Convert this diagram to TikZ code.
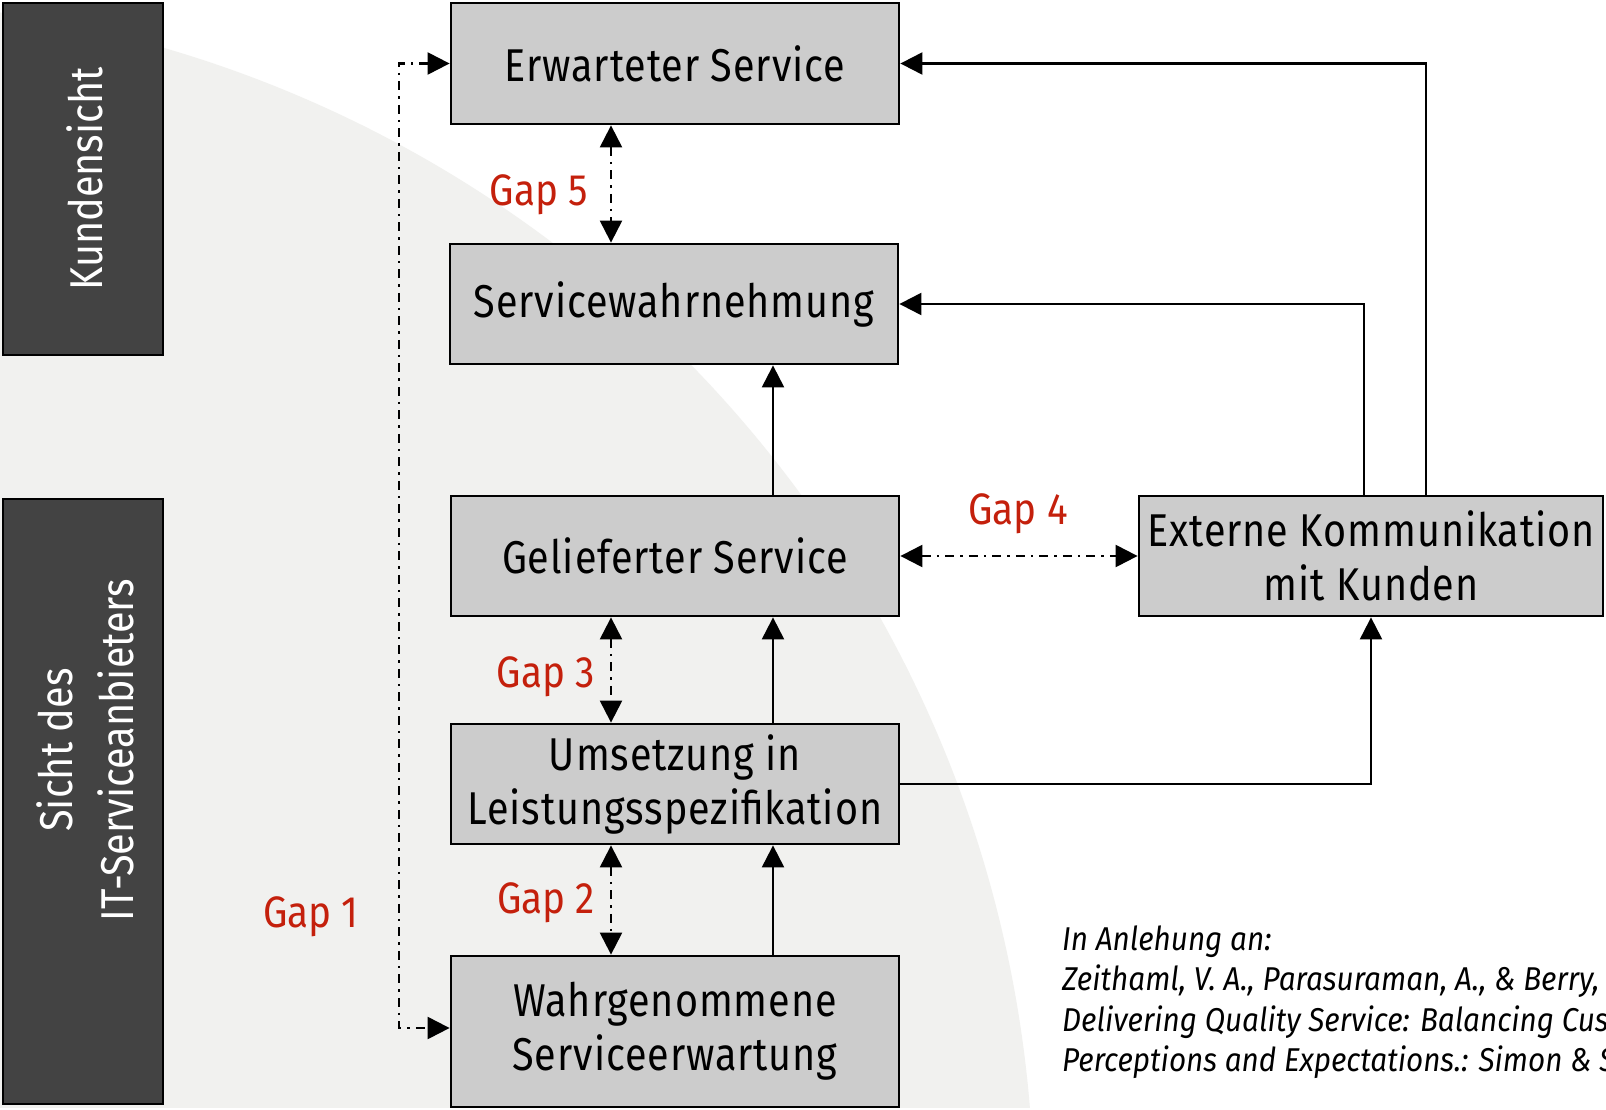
\documentclass[tikz,border=0pt]{standalone}
\usepackage{fontspec}
\setmainfont{Fira Sans}
\newfontfamily\boxfont{Fira Sans}[FakeStretch=0.86,LetterSpace=2]
\newfontfamily\sidefont{Fira Sans}[FakeStretch=0.86]
\newfontfamily\gapfont{Fira Sans}[FakeStretch=0.88]
\newfontfamily\citefont{Fira Sans Italic}[FakeStretch=0.9]
\usetikzlibrary{arrows.meta}
\definecolor{gapred}{HTML}{C4200C}
\definecolor{boxgray}{HTML}{CCCCCC}
\definecolor{viewdark}{HTML}{434343}
\definecolor{backgray}{HTML}{F1F1EF}
\tikzset{
  stage/.style={draw=black, line width=2.8pt, fill=boxgray, inner sep=0pt, align=center,
    minimum width=448pt, font=\boxfont\fontsize{46}{54}\selectfont},
  view/.style={draw=black, line width=2.8pt, fill=viewdark, inner sep=0pt,
    minimum width=160pt},
  viewtext/.style={text=white, rotate=90, align=center, inner sep=0pt,
    font=\sidefont\fontsize{46}{61}\selectfont},
  gaplabel/.style={text=gapred, inner sep=0pt, font=\gapfont\fontsize{44}{50}\selectfont},
  citeline/.style={anchor=base west, inner sep=0pt, font=\citefont\fontsize{33}{40}\selectfont},
  flow/.style={line width=2.2pt, -{Triangle[length=22pt,width=22pt]}},
  gapline/.style={line width=2.2pt, dash pattern=on 9pt off 6pt on 2.5pt off 6pt},
  gapboth/.style={gapline, {Triangle[length=22pt,width=22pt]}-{Triangle[length=22pt,width=22pt]}},
}
\begin{document}
\begin{tikzpicture}[x=1pt,y=-1pt]
  \useasboundingbox (0,0) rectangle (1606,1110);
  \fill[white] (0,0) rectangle (1606,1110);
  % light background disc
  \begin{scope}
    \clip (0,0) rectangle (1606,1107);
    \fill[backgray] (-174,1208) circle[radius=1208pt];
  \end{scope}

  % perspective bars
  \node[view, minimum height=352pt] (kund) at (83,179) {};
  \node[viewtext] (kundtext) at (85,179) {Kundensicht};
  \node[view, minimum height=605pt] (sicht) at (83,801.5) {};
  \node[viewtext] (sichttext) at (85,750) {Sicht des\\IT-Serviceanbieters};

  % stages
  \node[stage, minimum height=121pt] (erw) at (675,63.5) {Erwarteter Service};
  \node[stage, minimum height=120pt] (wahr) at (674,304) {Servicewahrnehmung};
  \node[stage, minimum height=120pt] (gel) at (675,556) {Gelieferter Service};
  \node[stage, minimum height=120pt] (ums) at (675,784) {Umsetzung in\\Leistungsspezifikation};
  \node[stage, minimum height=151pt] (wse) at (675,1031.5) {Wahrgenommene\\Serviceerwartung};
  \node[stage, minimum width=464pt, minimum height=120pt] (ext) at (1371,556) {Externe Kommunikation\\mit Kunden};

  % helper columns
  \coordinate (gapx) at (611,0);
  \coordinate (flowx) at (773,0);
  \coordinate (extA) at (1426,0);
  \coordinate (extB) at (1364,0);
  \coordinate (g1x) at (399,0);

  % solid flows
  \draw[flow] (wse.north -| flowx) -- (ums.south -| flowx);
  \draw[flow] (ums.north -| flowx) -- (gel.south -| flowx);
  \draw[flow] (gel.north -| flowx) -- (wahr.south -| flowx);
  \draw[flow] (ext.north -| extA) |- (erw.east);
  \draw[flow] (ext.north -| extB) |- (wahr.east);
  \draw[flow] (ums.east) -| (ext.south);

  % gaps
  \draw[gapboth] (erw.west) -- (erw.west -| g1x) |- ([yshift=3.5pt]wse.west);
  \draw[gapboth] (erw.south -| gapx) -- (wahr.north -| gapx);
  \draw[gapboth] (gel.south -| gapx) -- (ums.north -| gapx);
  \draw[gapboth] (ums.south -| gapx) -- (wse.north -| gapx);
  \draw[gapboth] (gel.east) -- (ext.west);

  \node[gaplabel] (gap1) at (311,917) {Gap 1};
  \node[gaplabel] (gap2) at (546,903) {Gap 2};
  \node[gaplabel] (gap3) at (546,677) {Gap 3};
  \node[gaplabel] (gap4) at (1018,514) {Gap 4};
  \node[gaplabel] (gap5) at (539,195) {Gap 5};

  % source note
  \begin{scope}
    \clip (0,0) rectangle (1606,1110);
    \node[citeline] (cite1) at (1062,950) {In Anlehung an:};
    \node[citeline] (cite2) at (1062,990) {Zeithaml, V. A., Parasuraman, A., \& Berry,};
    \node[citeline] (cite3) at (1062,1031) {Delivering Quality Service: Balancing Customer};
    \node[citeline] (cite4) at (1062,1071) {Perceptions and Expectations.: Simon \& Schuster};
  \end{scope}
\end{tikzpicture}
\end{document}
